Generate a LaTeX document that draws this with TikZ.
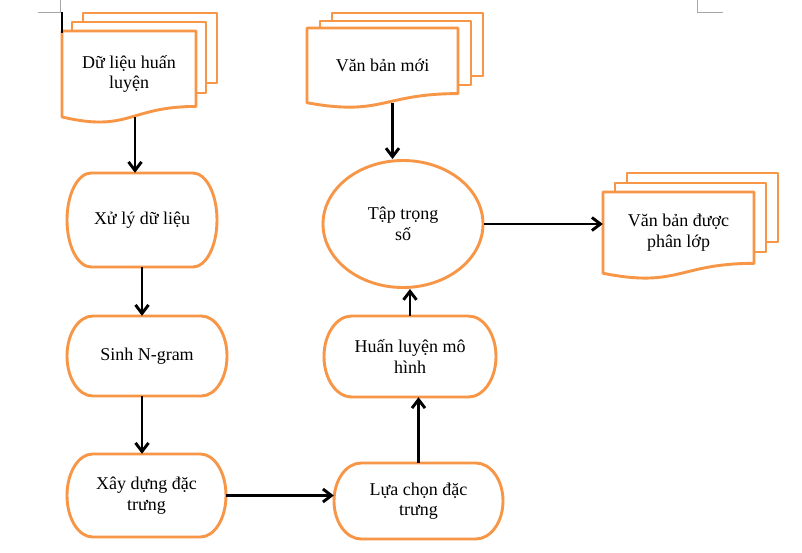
\documentclass[tikz,border=0pt]{standalone}
\usepackage{fontspec}
\setmainfont{Liberation Serif}
\usetikzlibrary{arrows.meta,shapes.geometric}
\definecolor{flowOrange}{HTML}{F79646}

\begin{document}
\begin{tikzpicture}
[x=1pt,y=-1pt,
  lineDecorate/.style={draw=black,line width=2.9pt,-{Straight Barb[length=8.5pt,width=13pt]}},%
  outlineDecorate/.style={draw=flowOrange,line width=2.9pt,fill=white,line join=round},%
  textDecorate/.style={align=center,inner sep=0pt,font=\fontsize{18}{20.5}\selectfont},%
  ellipseDecorate/.style={textDecorate,ellipse,draw=flowOrange,line width=2.9pt},%
  markDecorate/.style={draw=black!35,line width=0.8pt}]
%% page and corner marks
\path[use as bounding box,fill=white] (0,0) rectangle (802,552);
\draw[markDecorate] (38,12) -- (60,12) -- (60,0);
\draw[markDecorate] (697,0) -- (697,12) -- (723,12);
%% stacked documents
\foreach \xa/\ya/\xb/\yb/\xc/\yc/\w/\hb/\hc/\hf in {83/13/72/22/62/31/134/70/71/92, 332/13/320/21/307/28/151/63/64/80, 627/173/615/183/603/192/151/69/69/87}
{
  \draw[outlineDecorate] (\xa,\ya) rectangle ++(\w,\hb);
  \draw[outlineDecorate] (\xb,\yb) rectangle ++(\w,\hc);
  \draw[outlineDecorate] (\xc,\yc) -- ++(\w,0) -- ++(0,0.82*\hf)
    .. controls (\xc+0.5*\w,\yc+0.82*\hf) and (\xc+0.5*\w,\yc+1.107*\hf) .. (\xc,\yc+0.934*\hf) -- cycle;
}
\foreach \nodename/\x/\y/\w/\h/\txt in {train/129/74/134/86/{Dữ liệu huấn\\luyện}, newdoc/382.5/65.5/151/75/{Văn bản mới}, result/678.5/232.5/151/81/{Văn bản được\\phân lớp}}
{
  \node[textDecorate,minimum width=\w pt,minimum height=\h pt] (\nodename) at (\x,\y) {\txt};
}
\coordinate (trainout) at ([xshift=6pt]train.south);
\coordinate (newout) at ([xshift=10pt]newdoc.south);
%% process boxes
\foreach \nodename/\x/\y/\w/\h/\txt in {prep/142/220/150/94/{Xử lý dữ liệu}, ngram/147/356/160/80/{Sinh N-gram}, feat/146.5/495.5/159/83/{Xây dựng đặc\\trưng}, select/418.5/501/169/76/{Lựa chọn đặc\\trưng}, model/410/356.5/172/81/{Huấn luyện mô\\hình}}
{
  \draw[outlineDecorate] (\x-0.339*\w,\y-0.5*\h) -- (\x+0.339*\w,\y-0.5*\h)
    arc[start angle=-90,end angle=90,x radius=0.161*\w,y radius=0.5*\h]
    -- (\x-0.339*\w,\y+0.5*\h)
    arc[start angle=90,end angle=270,x radius=0.161*\w,y radius=0.5*\h] -- cycle;
  \node[textDecorate,minimum width=\w pt,minimum height=\h pt] (\nodename) at (\x,\y) {\txt};
}
\node[ellipseDecorate,minimum width=160pt,minimum height=127pt] (weights) at (403,224) {Tập trọng\\số};
%% arrows
\path
\foreach \startpt/\endpt in {trainout/trainout |- prep.north, prep.south/prep.south |- ngram.north, prep.south |- ngram.south/prep.south |- feat.north, feat.east/feat.east -| select.west, select.north/select.north |- model.south, model.north/model.north |- weights.south, newout/newout |- weights.north, weights.east/weights.east -| result.west}
{
  (\startpt) edge[lineDecorate] (\endpt)
};
\draw[black,line width=1.6pt] (62,12) -- (62,33);
\end{tikzpicture}
\end{document}
